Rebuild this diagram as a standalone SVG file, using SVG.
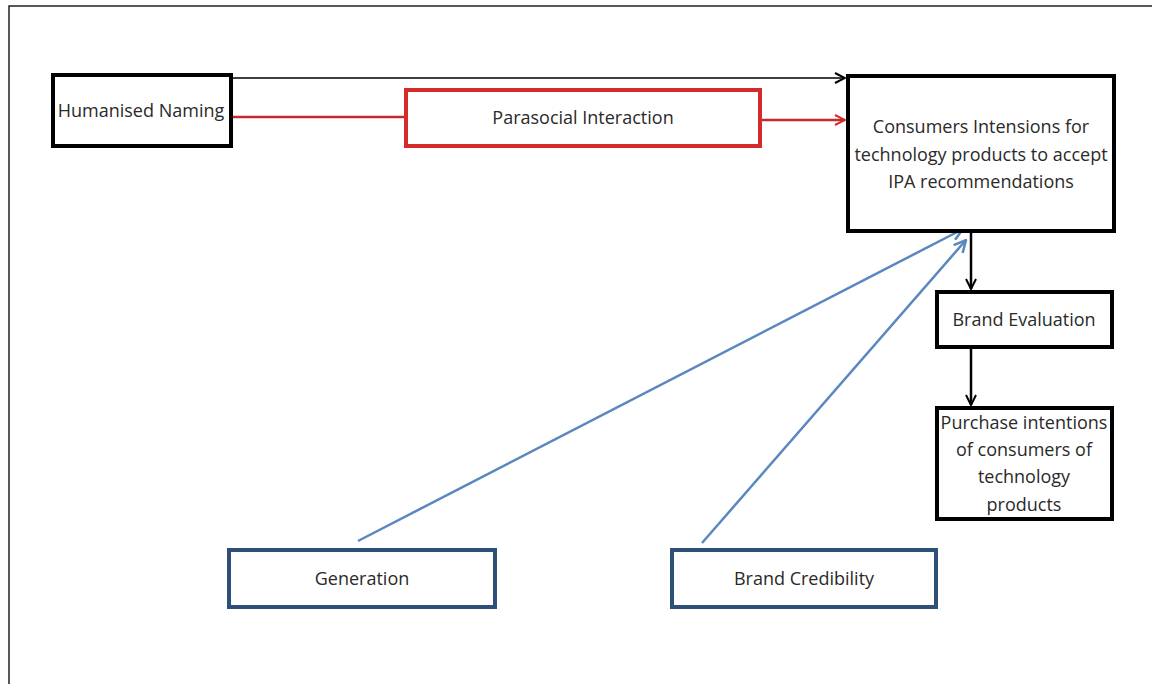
<svg xmlns="http://www.w3.org/2000/svg" width="1152" height="684" viewBox="0 0 1152 684">
  <style>
    text { font-family: "Open Sans", "Liberation Sans", Arial, sans-serif; font-size: 18px; fill: #2a2a2a; text-anchor: middle; }
    .box { fill: #fff; stroke: #000; stroke-width: 4; }
    .red { fill: #fff; stroke: #d42b2b; stroke-width: 4; }
    .blue { fill: #fff; stroke: #2e5077; stroke-width: 4; }
    .ln-black { stroke: #000; stroke-width: 2.5; fill: none; }
    .ln-thin { stroke: #000; stroke-width: 1.5; fill: none; }
    .ln-red { stroke: #c42a2a; stroke-width: 2.5; fill: none; }
    .ln-blue { stroke: #5b87bf; stroke-width: 2.5; fill: none; }
  </style>
  <defs>
    <marker id="arrBlack" viewBox="0 0 12 12" refX="11" refY="6" markerWidth="12" markerHeight="12" markerUnits="userSpaceOnUse" orient="auto">
      <path d="M1,1 L11,6 L1,11" fill="none" stroke="#000" stroke-width="2"/>
    </marker>
    <marker id="arrRed" viewBox="0 0 12 12" refX="11" refY="6" markerWidth="12" markerHeight="12" markerUnits="userSpaceOnUse" orient="auto">
      <path d="M1,1 L11,6 L1,11" fill="none" stroke="#d42b2b" stroke-width="2"/>
    </marker>
    <marker id="arrBlue" viewBox="0 0 14 14" refX="13" refY="7" markerWidth="14" markerHeight="14" markerUnits="userSpaceOnUse" orient="auto">
      <path d="M1,1 L13,7 L1,13" fill="none" stroke="#5b87bf" stroke-width="2.5"/>
    </marker>
  </defs>

  <rect width="1152" height="684" fill="#fff"/>
  <!-- page frame -->
  <path d="M9,684 L9,6 L1152,6" fill="none" stroke="#222" stroke-width="1.5"/>

  <g id="connectors">
    <path class="ln-thin" d="M231,78 L845,78" marker-end="url(#arrBlack)"/>
    <path class="ln-red" d="M231,117 L405,117"/>
    <path class="ln-red" d="M761,120 L845,120" marker-end="url(#arrRed)"/>
    <path class="ln-black" d="M971,232 L971,289" marker-end="url(#arrBlack)"/>
    <path class="ln-black" d="M971,347 L971,405" marker-end="url(#arrBlack)"/>
    <path class="ln-blue" d="M358,541 L963,229" marker-end="url(#arrBlue)"/>
    <path class="ln-blue" d="M702,543 L966,240" marker-end="url(#arrBlue)"/>
  </g>

  <g id="humanised-naming">
    <rect class="box" x="53" y="75" width="178" height="71"/>
    <text x="141" y="117">Humanised Naming</text>
  </g>

  <g id="parasocial-interaction">
    <rect class="red" x="406" y="90" width="354" height="56"/>
    <text x="583" y="124">Parasocial Interaction</text>
  </g>

  <g id="consumers-intensions">
    <rect class="box" x="848" y="76" width="266" height="155"/>
    <text x="981" y="133">Consumers Intensions for</text>
    <text x="981" y="161">technology products to accept</text>
    <text x="981" y="188">IPA recommendations</text>
  </g>

  <g id="brand-evaluation">
    <rect class="box" x="937" y="292" width="175" height="55"/>
    <text x="1024" y="326">Brand Evaluation</text>
  </g>

  <g id="purchase-intentions">
    <rect class="box" x="937" y="408" width="175" height="111"/>
    <text x="1024" y="429">Purchase intentions</text>
    <text x="1024" y="456">of consumers of</text>
    <text x="1024" y="483">technology</text>
    <text x="1024" y="511">products</text>
  </g>

  <g id="generation">
    <rect class="blue" x="229" y="550" width="266" height="57"/>
    <text x="362" y="585">Generation</text>
  </g>

  <g id="brand-credibility">
    <rect class="blue" x="672" y="550" width="264" height="57"/>
    <text x="804" y="585">Brand Credibility</text>
  </g>
</svg>
